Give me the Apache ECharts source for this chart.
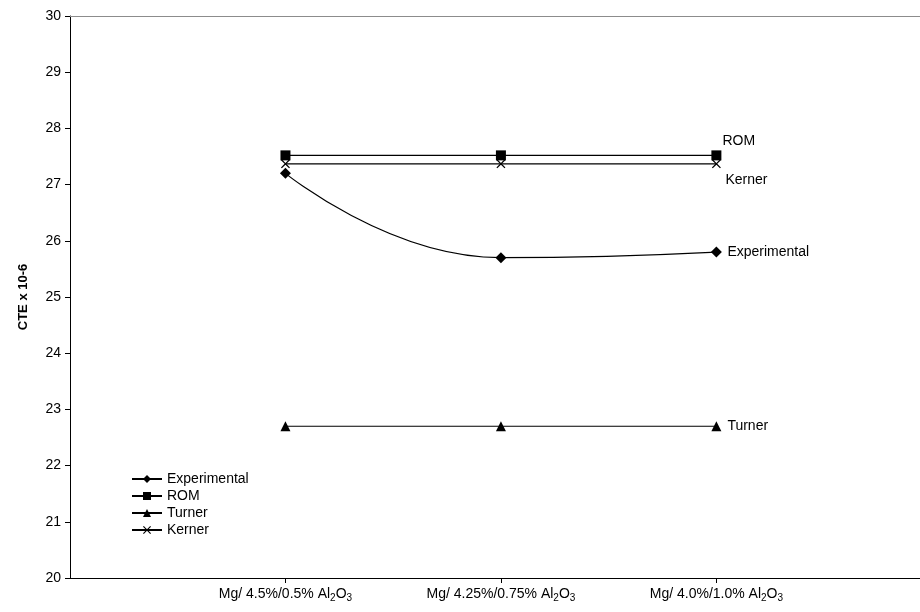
<!DOCTYPE html>
<html>
<head>
<meta charset="utf-8">
<script src="https://cdn.jsdelivr.net/npm/echarts@6/dist/echarts.min.js"></script>
<style>
  html, body { margin: 0; padding: 0; background: #fff; }
  #chart { width: 920px; height: 612px; }
</style>
</head>
<body>
<div id="chart"></div>
<script>
// categories (placed at x = 1, 2, 3 on a value axis)
var categories = [
    'Mg/ 4.5%/0.5% Al{s|2}O{s|3}',
    'Mg/ 4.25%/0.75% Al{s|2}O{s|3}',
    'Mg/ 4.0%/1.0% Al{s|2}O{s|3}'
];
var categoryPos = [1, 2, 3];
var experimental = [27.2, 25.7, 25.8];
var rom = [27.52, 27.52, 27.52];
var turner = [22.7, 22.7, 22.7];
var kerner = [27.37, 27.37, 27.37];

// filled "x" shape, so it also draws in the legend
var crossPath = 'path://M0,1L1,0L5,4L9,0L10,1L6,5L10,9L9,10L5,6L1,10L0,9L4,5Z';
var font = 'Liberation Sans, Arial, sans-serif';
var xMax = 3.945;

function toPoints(arr) {
    return arr.map(function(v, i) { return [categoryPos[i], v]; });
}

function makeSeries(name, values, symbol, size, smooth, labelOffset) {
    return {
        name: name,
        type: 'line',
        data: toPoints(values),
        smooth: smooth,
        symbol: symbol,
        symbolSize: size,
        showAllSymbol: true,
        lineStyle: { color: '#000', width: 1.2 },
        itemStyle: { color: '#000', borderColor: '#000', borderWidth: 0 },
        endLabel: {
            show: true,
            formatter: '{a}',
            color: '#000',
            fontFamily: font,
            fontSize: 14,
            offset: labelOffset
        }
    };
}

var chart = echarts.init(document.getElementById('chart'));

var option = {
    animation: false,
    backgroundColor: '#fff',
    textStyle: { fontFamily: font },
    grid: {
        left: 70,
        right: 0,
        top: 16,
        bottom: 34
    },
    legend: {
        orient: 'vertical',
        left: 126,
        top: 467,
        itemWidth: 30,
        itemHeight: 10,
        itemGap: 3,
        textStyle: { color: '#000', fontSize: 14, fontFamily: font },
        data: ['Experimental', 'ROM', 'Turner', 'Kerner']
    },
    xAxis: [{
        type: 'value',
        min: 0,
        max: xMax,
        axisLine: { show: true, onZero: false, lineStyle: { color: '#000', width: 1 } },
        axisTick: { show: true, length: 5, customValues: categoryPos, lineStyle: { color: '#000' } },
        splitLine: { show: false },
        axisLabel: {
            color: '#000',
            fontSize: 14,
            fontFamily: font,
            margin: 7,
            customValues: categoryPos,
            formatter: function(v) {
                var c = categories[Math.round(v) - 1];
                return c || '';
            },
            rich: {
                s: { fontSize: 10, verticalAlign: 'bottom', padding: [8, 0, 0, 0], color: '#000', fontFamily: font }
            }
        }
    }, {
        // grey top border of the plot area
        type: 'value',
        position: 'top',
        min: 0,
        max: xMax,
        axisLine: { show: true, lineStyle: { color: '#8c8c8c', width: 1 } },
        axisTick: { show: false },
        axisLabel: { show: false },
        splitLine: { show: false }
    }],
    yAxis: {
        type: 'value',
        min: 20,
        max: 30,
        interval: 1,
        name: 'CTE x 10-6',
        nameLocation: 'middle',
        nameGap: 40,
        nameTextStyle: { color: '#000', fontSize: 13, fontWeight: 'bold', fontFamily: font },
        axisLine: { show: true, lineStyle: { color: '#000', width: 1 } },
        axisTick: { show: true, length: 5, lineStyle: { color: '#000' } },
        splitLine: { show: false },
        axisLabel: { color: '#000', fontSize: 14, fontFamily: font, margin: 9 }
    },
    series: [
        makeSeries('Experimental', experimental, 'diamond', 11, 0.5, [3, 0]),
        makeSeries('ROM', rom, 'rect', 10, false, [-2, -14]),
        makeSeries('Turner', turner, 'triangle', 10, false, [3, 0]),
        makeSeries('Kerner', kerner, crossPath, 9, false, [1, 16])
    ]
};

chart.setOption(option);
</script>
</body>
</html>
